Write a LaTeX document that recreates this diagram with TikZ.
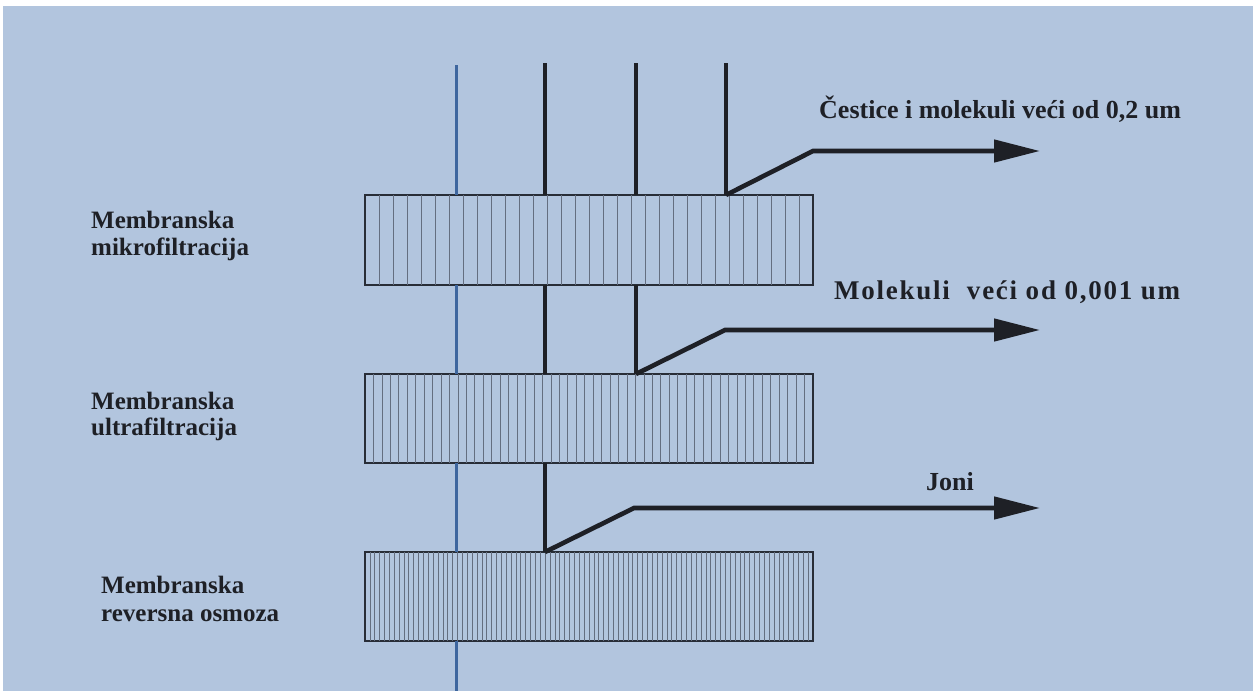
\documentclass[tikz,border=0pt]{standalone}
\usepackage{fontspec}
\setmainfont{Liberation Serif}
\usetikzlibrary{arrows.meta,calc}

\definecolor{paper}{RGB}{178,197,222}
\definecolor{ink}{RGB}{30,32,38}
\definecolor{boxline}{RGB}{40,45,55}
\definecolor{hatchcol}{RGB}{100,110,128}
\definecolor{feedblue}{RGB}{62,102,158}

\tikzset{
  membox/.style={draw=boxline, line width=2.2pt, minimum width=448pt,
    minimum height=90pt, inner sep=0pt, outer sep=0pt},
  hatch/.style={draw=hatchcol, line width=0.8pt},
  stem/.style={draw=ink, line width=3.2pt},
  feed/.style={draw=feedblue, line width=3pt},
  outarrow/.style={draw=ink, line width=4.6pt, line join=miter,
    -{Triangle[length=46pt, width=22pt]}},
  leftlabel/.style={font=\fontsize{25}{27}\selectfont\bfseries, text=ink,
    inner sep=0pt, anchor=base west},
  rightlabel/.style={font=\fontsize{26}{28}\selectfont\bfseries, text=ink,
    inner sep=0pt, anchor=base west}
}

\begin{document}
\begin{tikzpicture}[x=1pt, y=-1pt]
  % paper with its thin white margin
  \fill[white] (0,0) rectangle (1253,691);
  \fill[paper] (3,6) rectangle (1253,691);
  \useasboundingbox (0,0) rectangle (1253,691);

  % the three membranes
  \node[membox] (mf) at (589,240) {};
  \node[membox, minimum height=89pt] (uf) at (589,418.5) {};
  \node[membox, minimum height=89pt] (ro) at (589,596.5) {};

  % pore hatching, denser for tighter membranes
  \foreach \i in {1,...,31}
    \draw[hatch] ($(mf.north west)!\i/32!(mf.north east)$) -- ($(mf.south west)!\i/32!(mf.south east)$);
  \foreach \i in {1,...,52}
    \draw[hatch] ($(uf.north west)!\i/53!(uf.north east)$) -- ($(uf.south west)!\i/53!(uf.south east)$);
  \foreach \i in {1,...,91}
    \draw[hatch, line width=0.7pt] ($(ro.north west)!\i/92!(ro.north east)$) -- ($(ro.south west)!\i/92!(ro.south east)$);

  % feed streams entering from the top
  \coordinate (w) at (456,65);
  \coordinate (s1) at (545,63);
  \coordinate (s2) at (636,63);
  \coordinate (s3) at (726,63);
  \coordinate (wb) at (456,691);

  \draw[feed] (w) -- (w |- mf.north);
  \draw[feed] (w |- mf.south) -- (w |- uf.north);
  \draw[feed] (w |- uf.south) -- (w |- ro.north);
  \draw[feed] (w |- ro.south) -- (wb);

  \draw[stem] (s1) -- (s1 |- mf.north);
  \draw[stem] (s1 |- mf.south) -- (s1 |- uf.north);
  \draw[stem] (s1 |- uf.south) -- (s1 |- ro.north);

  \draw[stem] (s2) -- (s2 |- mf.north);
  \draw[stem] (s2 |- mf.south) -- (s2 |- uf.north);

  \draw[stem] (s3) -- (s3 |- mf.north);

  % retained fractions leaving to the right
  \coordinate (k1) at (813,151);
  \coordinate (e1) at (1040,151);
  \coordinate (k2) at (725,330);
  \coordinate (e2) at (1040,330);
  \coordinate (k3) at (634,508);
  \coordinate (e3) at (1040,508);

  \draw[outarrow] (s3 |- mf.north) -- (k1) -- (e1);
  \draw[outarrow] (s2 |- uf.north) -- (k2) -- (e2);
  \draw[outarrow] (s1 |- ro.north) -- (k3) -- (e3);

  % labels of the retained fractions
  \node[rightlabel] (r1) at (819,118) {Čestice i molekuli veći od 0,2 um};
  \node[rightlabel, font=\fontsize{27}{29}\selectfont\bfseries\addfontfeature{LetterSpace=6.5}]
    (r2) at (834,299) {Molekuli\ \ veći od 0,001 um};
  \node[rightlabel] (r3) at (926,490) {Joni};

  % membrane names
  \node[leftlabel] (mf1) at (91,228) {Membranska};
  \node[leftlabel] (mf2) at (91,255) {mikrofiltracija};
  \node[leftlabel] (uf1) at (91,409) {Membranska};
  \node[leftlabel] (uf2) at (91,435) {ultrafiltracija};
  \node[leftlabel] (ro1) at (101,593) {Membranska};
  \node[leftlabel] (ro2) at (101,621) {reversna osmoza};
\end{tikzpicture}
\end{document}
